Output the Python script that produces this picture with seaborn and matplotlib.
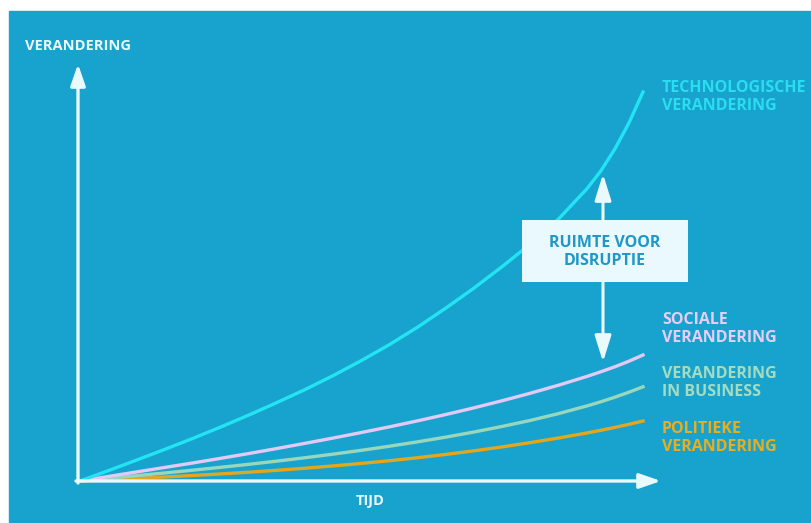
import pandas as pd
import matplotlib.pyplot as plt
import seaborn as sns
from matplotlib.patches import Rectangle

# curve values (time 0..10, change in px-like units)
tijd = [0, 0.5, 1, 1.5, 2, 2.5, 3, 3.5, 4, 4.5, 5, 5.5, 6, 6.5, 7, 7.5,
        8, 8.5, 9, 9.25, 9.5, 9.75, 10]
technologisch = [0, 10.3, 20.8, 31.5, 42.5, 54, 66, 78.5, 91.5, 105.5, 120.5,
                 136.5, 154, 173, 193, 214.5, 237, 262, 292, 310, 332, 358, 389]
sociaal = [0, 4.5, 9, 13.5, 18, 22.7, 27.5, 32.5, 37.7, 43, 48.5, 54.2, 60.2,
           66.5, 73.2, 80.3, 87.8, 95.8, 104.5, 109.2, 114.2, 119.8, 126]
business = [0, 2.6, 5.3, 8.0, 10.8, 13.7, 16.7, 19.9, 23.3, 26.9, 30.7, 34.8,
            39.2, 43.9, 49, 54.6, 60.6, 67.4, 75, 79.2, 83.8, 88.8, 94.2]
politiek = [0, 1.3, 2.6, 4, 5.5, 7.1, 8.8, 10.7, 12.8, 15.1, 17.6, 20.3, 23.3,
            26.6, 30.2, 34.1, 38.4, 43, 48, 50.7, 53.6, 56.7, 60]

series = {
    'Technologisch': technologisch,
    'Sociaal': sociaal,
    'Business': business,
    'Politiek': politiek,
}
colors = {
    'Technologisch': '#22E4F4',
    'Sociaal': '#E2C9F6',
    'Business': '#98D7BC',
    'Politiek': '#E2A71E',
}

labels = {
    'Technologisch': ('TECHNOLOGISCHE\nVERANDERING', '#2ADDF0', 97),
    'Sociaal': ('SOCIALE\nVERANDERING', '#E6CEF8', 329),
    'Business': ('VERANDERING\nIN BUSINESS', '#A4DCC2', 383),
    'Politiek': ('POLITIEKE\nVERANDERING', '#E8AE22', 438),
}

df = pd.concat(
    [pd.DataFrame({'tijd': tijd, 'verandering': v, 'reeks': k}) for k, v in series.items()]
)

BG = '#17A3CD'
WHITE = '#EAF9FD'
FONT = ['Open Sans', 'DejaVu Sans']

# pixel -> data helpers (origin of the chart sits at pixel 80, 481)
SX = 56.3
def px(x, y):
    return (x - 80) / SX, 481 - y

fig = plt.figure(figsize=(8.11, 5.23), dpi=100, facecolor='white')
fig.patches.append(Rectangle((9 / 811, 0), 1, (523 - 11) / 523,
                             transform=fig.transFigure, color=BG, zorder=-10))
ax = fig.add_axes([0, 0, 1, 1])
ax.set_facecolor('none')

sns.lineplot(data=df, x='tijd', y='verandering', hue='reeks', palette=colors,
             hue_order=['Politiek', 'Business', 'Sociaal', 'Technologisch'],
             linewidth=2.4, legend=False, ax=ax, zorder=3)

x0, x1 = px(0, 0)[0], px(811, 0)[0]
ax.set_xlim(x0, x1)
ax.set_ylim(-42, 481)
ax.axis('off')

# axes with arrows
arrow_kw = dict(arrowstyle='-|>,head_length=1.3,head_width=0.45', color=WHITE,
                lw=2.4, mutation_scale=10, shrinkA=0, shrinkB=0)
ax.annotate('', xy=px(78, 64), xytext=px(78, 483), arrowprops=arrow_kw, zorder=4)
ax.annotate('', xy=px(661, 481), xytext=px(76, 481), arrowprops=arrow_kw, zorder=4)

# double arrow for the gap
dbl = dict(arrowstyle='<|-|>,head_length=1.6,head_width=0.5', color=WHITE,
           lw=2.2, mutation_scale=10, shrinkA=0, shrinkB=0)
ax.annotate('', xy=px(603, 174), xytext=px(603, 362), arrowprops=dbl, zorder=4)

bx, by = px(522, 282)
ax.add_patch(Rectangle((bx, by), (688 - 522) / SX, 282 - 220,
                       facecolor=WHITE, edgecolor='none', zorder=5))
ax.text(*px(605, 252), 'RUIMTE VOOR\nDISRUPTIE', ha='center', va='center',
        color='#1F97C7', fontsize=11.5, fontweight='bold', family=FONT,
        linespacing=1.2, zorder=6)

# axis titles
ax.text(*px(25, 46), 'VERANDERING', ha='left', va='center', color=WHITE,
        fontsize=10.5, fontweight='bold', family=FONT)
ax.text(*px(370, 501), 'TIJD', ha='center', va='center', color=WHITE,
        fontsize=10.5, fontweight='bold', family=FONT)

# series labels
for key, (txt, col, ypx) in labels.items():
    ax.text(*px(662, ypx), txt, ha='left', va='center', color=col,
            fontsize=11.5, fontweight='bold', family=FONT, linespacing=1.12)

fig.savefig('out.png', dpi=100, facecolor=fig.get_facecolor())
